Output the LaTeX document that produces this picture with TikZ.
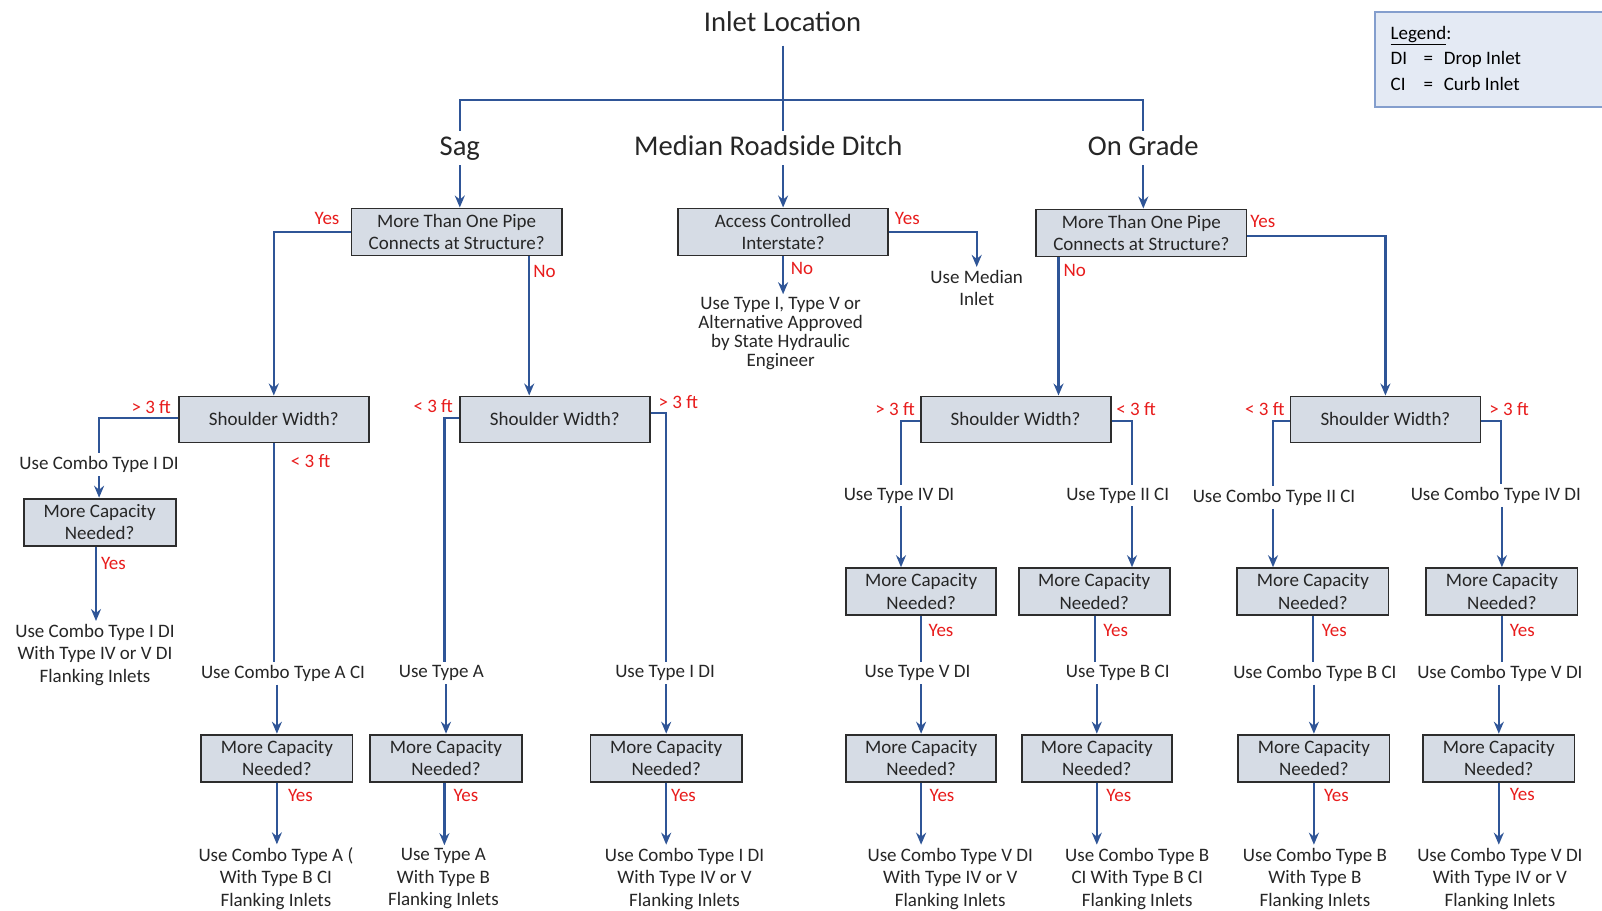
\documentclass[tikz,border=0pt]{standalone}
\usepackage{fontspec}
\setmainfont{Carlito}
\usetikzlibrary{arrows.meta}
\definecolor{lineblue}{RGB}{47,85,151}
\definecolor{boxfill}{RGB}{214,220,229}
\definecolor{boxedge}{RGB}{45,45,45}
\definecolor{lblred}{RGB}{232,28,28}
\definecolor{txtgray}{RGB}{38,38,38}
\definecolor{legfill}{RGB}{228,234,244}
\definecolor{legedge}{RGB}{132,158,205}
\newcommand{\bodyfont}{\fontsize{19}{22.5}\selectfont}
\newcommand{\tightfont}{\fontsize{19}{18.9}\selectfont}
\newcommand{\headfont}{\fontsize{28.6}{34}\selectfont}
\begin{document}
\begin{tikzpicture}[x=1pt,y=-1pt,
 qbox/.style={draw=boxedge,fill=boxfill,line width=1.8pt,minimum height=47pt,inner sep=2pt,align=center,font=\bodyfont,text=txtgray},
 txt/.style={align=center,font=\bodyfont,text=txtgray,inner sep=3pt,yshift=-2pt},
 hdr/.style={font=\headfont,text=txtgray,inner sep=4pt,text height=20pt,text depth=6pt},
 lbl/.style={font=\bodyfont,text=lblred,inner sep=0pt},
 legtxt/.style={anchor=west,font=\bodyfont,text=black,inner sep=0pt,text height=13pt,text depth=0pt},
 conn/.style={draw=lineblue,line width=2.2pt},
 arr/.style={conn,-{Stealth[length=12pt,width=10pt,inset=4pt]}},
]
\fill[white] (0,0) rectangle (1602,910);
\useasboundingbox (0,0) rectangle (1602,910);

% legend
\node[draw=legedge,fill=legfill,line width=1.5pt,minimum width=232pt,minimum height=95pt,anchor=north west,inner sep=0pt] (legend) at (1374.2,11.2) {};
\node[legtxt] (leg1) at (1390.5,32.7) {\underline{Legend}:};
\node[legtxt] (leg2) at (1390.5,58.2) {\makebox[33pt][l]{DI}=\hspace{10.7pt}Drop Inlet};
\node[legtxt] (leg3) at (1390.5,83.8) {\makebox[33pt][l]{CI}=\hspace{10.7pt}Curb Inlet};

% headers
\node[hdr] (title) at (782.6,24.5) {Inlet Location};
\node[hdr] (sag) at (459.8,148) {Sag};
\node[hdr] (med) at (768.3,148) {Median Roadside Ditch};
\node[hdr] (grade) at (1143.3,148) {On Grade};
\coordinate (bar) at (782.6,100.1);

% first level boxes
\node[qbox,minimum width=210.4pt] (pA) at (456.7,231.9) {More Than One Pipe\\Connects at Structure?};
\node[qbox,minimum width=209.5pt] (acc) at (783.1,231.9) {Access Controlled\\Interstate?};
\node[qbox,minimum width=210.5pt] (pG) at (1141.3,232.9) {More Than One Pipe\\Connects at Structure?};

\draw[conn,shorten <=4pt] (title.south) -- (title.south |- med.north);
\draw[conn] (sag.north) |- (bar) -| (grade.north);
\draw[arr] (sag.south) -- (sag.south |- pA.north);
\draw[arr] (acc.north |- med.south) -- (acc.north);
\draw[arr] (grade.south) -- (grade.south |- pG.north);

% median branch
\node[txt] (medinlet) at (976.7,286) {Use Median\\Inlet};
\node[txt,font=\tightfont] (acctxt) at (780.6,331.5) {Use Type I, Type V or\\Alternative Approved\\by State Hydraulic\\Engineer};
\draw[arr] (acc.east) -| (medinlet.north);
\draw[arr] (acc.south) -- (acc.south |- acctxt.north);
\node[lbl] (yM) at (907.3,218.6) {Yes};
\node[lbl] (nM) at (802,268.7) {No};

% shoulder width boxes
\node[qbox,minimum width=190pt,minimum height=46pt] (sw1) at (273.8,419.4) {Shoulder Width?};
\node[qbox,minimum width=190pt,minimum height=46pt] (sw2) at (554.8,419.4) {Shoulder Width?};
\node[qbox,minimum width=190pt,minimum height=46pt] (sw3) at (1015.6,419.4) {Shoulder Width?};
\node[qbox,minimum width=190pt,minimum height=46pt] (sw4) at (1385.4,419.4) {Shoulder Width?};

\draw[arr] (pA.west) -| (sw1.north);
\node[lbl] (yA) at (327,218.6) {Yes};
\draw[arr] ([xshift=72.5pt]pA.south) -- ([xshift=72.5pt]pA.south |- sw2.north);
\node[lbl] (nA) at (544.6,271.8) {No};
\draw[arr] ([yshift=-3pt]pG.east) -| (sw4.north);
\node[lbl] (yG) at (1262.8,221.7) {Yes};
\draw[arr] ([xshift=-82.8pt]pG.south) -- ([xshift=-82.8pt]pG.south |- sw3.north);
\node[lbl] (nG) at (1074.8,270.7) {No};

% SW1 left
\node[txt] (t1) at (99.1,462.8) {Use Combo Type I DI};
\node[qbox,minimum width=152pt] (c1) at (99.6,522.1) {More Capacity\\Needed?};
\node[txt] (r1) at (95,652.9) {Use Combo Type I DI\\With Type IV or V DI\\Flanking Inlets};
\draw[conn] ([yshift=1.5pt]sw1.west) -| (t1.north);
\draw[arr] (t1.south) -- (t1.south |- c1.north);
\draw[arr] ([xshift=-3.6pt]c1.south) -- ([xshift=-3.6pt]c1.south |- r1.north);
\node[lbl] (g1) at (151.2,406.6) {> 3 ft};
\node[lbl] (y1) at (113.4,563) {Yes};

% SW1 bottom
\node[txt] (t2) at (283,671.3) {Use Combo Type A CI};
\node[qbox,minimum width=151.2pt] (c2) at (276.9,758.1) {More Capacity\\Needed?};
\node[txt] (r2) at (275.9,876.6) {Use Combo Type A (\\With Type B CI\\Flanking Inlets};
\draw[conn] (sw1.south) -- (sw1.south |- t2.north);
\draw[arr] (c2.north |- t2.south) -- (c2.north);
\draw[arr] (c2.south) -- (c2.south |- r2.north);
\node[lbl] (l2) at (310.6,460.8) {< 3 ft};
\node[lbl] (y2) at (300.4,795.9) {Yes};

% SW2 left
\node[txt] (t3) at (441.4,671.3) {Use Type A};
\node[qbox,minimum width=152.2pt] (c3) at (446,758.1) {More Capacity\\Needed?};
\node[txt] (r3) at (443.4,876.6) {Use Type A\\With Type B\\Flanking Inlets};
\draw[conn] ([yshift=1.5pt]sw2.west) -| ([xshift=3pt]t3.north);
\draw[arr] (c3.north |- t3.south) -- (c3.north);
\draw[arr] ([xshift=-1.6pt]c3.south) -- ([xshift=-1.6pt]c3.south |- r3.north);
\node[lbl] (l3) at (433.2,405.6) {< 3 ft};
\node[lbl] (y3) at (465.9,795.9) {Yes};

% SW2 right
\node[txt] (t4) at (665.1,671.3) {Use Type I DI};
\node[qbox,minimum width=151.3pt] (c4) at (666.2,758.1) {More Capacity\\Needed?};
\node[txt] (r4) at (684.5,876.6) {Use Combo Type I DI\\With Type IV or V\\Flanking Inlets};
\draw[conn] ([yshift=6.6pt]sw2.east) -| ([xshift=1pt]t4.north);
\draw[arr] (c4.north |- t4.south) -- (c4.north);
\draw[arr] (c4.south) -- (c4.south |- r4.north);
\node[lbl] (g4) at (678.4,402.5) {> 3 ft};
\node[lbl] (y4) at (683.5,795.9) {Yes};

% SW3 left
\node[txt] (t5) at (899,493.5) {Use Type IV DI};
\node[qbox,minimum width=150.2pt] (d1) at (921.1,591.6) {More Capacity\\Needed?};
\node[txt] (t6) at (917.5,671.3) {Use Type V DI};
\node[qbox,minimum width=150.2pt] (d2) at (921.1,758.1) {More Capacity\\Needed?};
\node[txt] (r5) at (950.2,876.6) {Use Combo Type V DI\\With Type IV or V\\Flanking Inlets};
\draw[conn] ([yshift=-1.6pt]sw3.west) -| ([xshift=2pt]t5.north);
\draw[arr] ([xshift=2pt]t5.south) -- ([xshift=2pt]t5.south |- d1.north);
\draw[conn] (d1.south) -- (d1.south |- t6.north);
\draw[arr] (d2.north |- t6.south) -- (d2.north);
\draw[arr] (d2.south) -- (d2.south |- r5.north);
\node[lbl] (g5) at (895,408.7) {> 3 ft};
\node[lbl] (y5) at (941,630.4) {Yes};
\node[lbl] (y6) at (942,795.9) {Yes};

% SW3 right
\node[txt] (t7) at (1117.7,493.5) {Use Type II CI};
\node[qbox,minimum width=151.2pt] (d3) at (1094.2,591.6) {More Capacity\\Needed?};
\node[txt] (t8) at (1117.7,671.3) {Use Type B CI};
\node[qbox,minimum width=150.2pt] (d4) at (1096.8,758.1) {More Capacity\\Needed?};
\node[txt] (r6) at (1137.2,876.6) {Use Combo Type B\\CI With Type B CI\\Flanking Inlets};
\draw[conn] ([yshift=-1.6pt]sw3.east) -| ([xshift=14.3pt]t7.north);
\draw[arr] ([xshift=14.3pt]t7.south) -- ([xshift=14.3pt]t7.south |- d3.north);
\draw[conn] ([xshift=1.1pt]d3.south) -- ([xshift=1.1pt]d3.south |- t8.north);
\draw[arr] (d4.north |- t8.south) -- (d4.north);
\draw[arr] (d4.south) -- (d4.south |- r6.north);
\node[lbl] (l7) at (1136.1,408.7) {< 3 ft};
\node[lbl] (y7) at (1115.7,630.4) {Yes};
\node[lbl] (y8) at (1118.8,795.9) {Yes};

% SW4 left
\node[txt] (t9) at (1274,495.5) {Use Combo Type II CI};
\node[qbox,minimum width=151.2pt] (e1) at (1312.9,591.6) {More Capacity\\Needed?};
\node[txt] (t10) at (1314.9,671.3) {Use Combo Type B CI};
\node[qbox,minimum width=151.2pt] (e2) at (1313.9,758.1) {More Capacity\\Needed?};
\node[txt] (r7) at (1314.9,876.6) {Use Combo Type B\\With Type B\\Flanking Inlets};
\draw[conn] ([yshift=-1.6pt]sw4.west) -| ([xshift=-1pt]t9.north);
\draw[arr] ([xshift=-1pt]t9.south) -- ([xshift=-1pt]t9.south |- e1.north);
\draw[conn] (e1.south) -- (e1.south |- t10.north);
\draw[arr] (e2.north |- t10.south) -- (e2.north);
\draw[arr] (e2.south) -- (e2.south |- r7.north);
\node[lbl] (l9) at (1264.9,408.7) {< 3 ft};
\node[lbl] (y9) at (1334.3,630.4) {Yes};
\node[lbl] (y10) at (1336.4,795.9) {Yes};

% SW4 right
\node[txt] (t11) at (1495.8,493.5) {Use Combo Type IV DI};
\node[qbox,minimum width=151.2pt] (e3) at (1501.9,591.6) {More Capacity\\Needed?};
\node[txt] (t12) at (1499.9,671.3) {Use Combo Type V DI};
\node[qbox,minimum width=151.2pt] (e4) at (1498.8,758.1) {More Capacity\\Needed?};
\node[txt] (r8) at (1499.9,876.6) {Use Combo Type V DI\\With Type IV or V\\Flanking Inlets};
\draw[conn] ([yshift=-1.6pt]sw4.east) -| ([xshift=5.1pt]t11.north);
\draw[arr] (e3.north |- t11.south) -- (e3.north);
\draw[conn] (e3.south) -- (e3.south |- t12.north);
\draw[arr] (e4.north |- t12.south) -- (e4.north);
\draw[arr] (e4.south) -- (e4.south |- r8.north);
\node[lbl] (g11) at (1509,408.7) {> 3 ft};
\node[lbl] (y11) at (1522.3,630.4) {Yes};
\node[lbl] (y12) at (1522.3,794.9) {Yes};
\end{tikzpicture}
\end{document}
